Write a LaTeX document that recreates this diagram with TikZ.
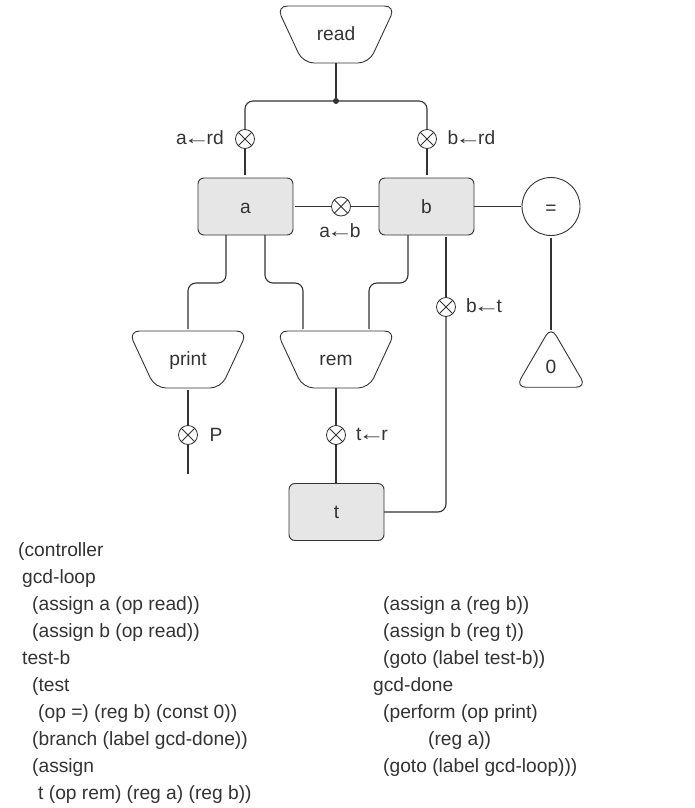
\documentclass[tikz,border=0pt]{standalone}
\usepackage{graphicx}
\usepackage{fontspec}
\setmainfont{Liberation Sans}
\usetikzlibrary{calc}
\definecolor{ink}{HTML}{333333}
\definecolor{regfill}{HTML}{E6E6E6}
\newcommand{\larr}{\kern-3.5pt\scalebox{1.4}[1]{←}\kern-3.5pt}
\newcommand{\trapbox}[4]{%
  \node[trapnode] (#1) at (#2,#3) {#4};
  \draw[shapeline] ([xshift=-59.5pt]#1.north) -- ([xshift=59.5pt]#1.north)
    -- ([xshift=33pt]#1.south) -- ([xshift=-33pt]#1.south) -- cycle;}
\newcommand{\codeline}[4]{\node[codetext] (#1) at (#2,#3) {#4};}
\tikzset{
  x=1pt,y=-1pt,
  every node/.style={text=ink,font=\fontsize{19.2}{22}\selectfont},
  wire/.style={draw=ink,line width=1.1pt,rounded corners=8pt},
  shapeline/.style={draw=ink,line width=0.9pt,rounded corners=11pt},
  regbox/.style={draw=ink,line width=0.9pt,fill=regfill,rounded corners=6pt,minimum width=95pt,minimum height=57pt,inner sep=0pt,outer sep=0pt,text height=13pt,text depth=0pt},
  trapnode/.style={minimum width=114pt,minimum height=57pt,inner sep=0pt,outer sep=0pt,text height=12pt,text depth=0pt},
  cmpnode/.style={circle,draw=ink,line width=0.9pt,minimum size=58pt,inner sep=0pt,outer sep=0pt,text height=16pt,text depth=0pt},
  gate/.style={circle,draw=ink,line width=0.8pt,fill=white,minimum size=19pt,inner sep=0pt,outer sep=0pt,
    path picture={\draw[ink,line width=0.8pt] (path picture bounding box.north west) -- (path picture bounding box.south east)
      (path picture bounding box.north east) -- (path picture bounding box.south west);}},
  lab/.style={inner sep=0pt},
  codetext/.style={anchor=base west,inner sep=0pt},
  dot/.style={circle,fill=ink,draw=none,minimum size=6pt,inner sep=0pt},
}
\begin{document}
\begin{tikzpicture}
\useasboundingbox (0,0) rectangle (694,808);
% operators
\trapbox{read}{336}{34.5}{read}
\trapbox{print}{188}{359.5}{print}
\trapbox{rem}{336}{359.5}{rem}
% registers
\node[regbox] (a) at (245.5,206.5) {a};
\node[regbox] (b) at (426.5,206.5) {b};
\node[regbox] (t) at (336.5,512) {t};
% comparison and constant
\node[cmpnode] (eq) at (551,206.5) {=};
\node[inner sep=0pt,minimum width=60pt,minimum height=57pt] (zero) at (551,358.5) {};
\draw[shapeline,rounded corners=10pt] ($(zero.north)+(0,-3)$) -- ($(zero.south east)+(5,0)$) -- ($(zero.south west)+(-5,0)$) -- cycle;
\node at (551,367) (zerotext) {0};
% junction and gates
\node[dot] (junc) at (336,101) {};
\node[gate] (garead) at (245,139) {};
\node[gate] (gbread) at (427,139) {};
\node[gate] (gab) at (341,206.5) {};
\node[gate] (gbt) at (446,307) {};
\node[gate] (gp) at (188,435) {};
\node[gate] (gtr) at (336,435) {};
\coordinate (pend) at (188,474);
% connectors
\draw[wire,line width=1.4pt] (read.south) -- (junc);
\draw[wire] (garead.north) -- (garead.north |- junc) -- (gbread.north |- junc) -- (gbread.north);
\draw[wire] (garead.south) -- ($(a.north -| garead.south)+(0,-3)$);
\draw[wire] (gbread.south) -- ($(b.north -| gbread.south)+(0,-3)$);
\draw[wire] ($(a.east)+(2,0)$) -- (gab.west);
\draw[wire] (gab.east) -- (b.west);
\draw[wire] (b.east) -- ($(eq.west)+(-1,0)$);
\draw[wire] ($(eq.south)+(0,2)$) -- (zero.north);
% a to print and rem, b to rem
\draw[wire] ($(a.south)+(-19.5,0)$) -- ($(a.south)+(-19.5,48)$) -- ($(print.north)+(0,-48)$) -- ($(print.north)+(0,-2)$);
\draw[wire] ($(a.south)+(19.5,0)$) -- ($(a.south)+(19.5,48)$) -- ($(rem.north)+(-33,-48)$) -- ($(rem.north)+(-33,-2)$);
\draw[wire] ($(b.south)+(-18.5,0)$) -- ($(b.south)+(-18.5,48)$) -- ($(rem.north)+(33,-48)$) -- ($(rem.north)+(33,-2)$);
% b <- t
\draw[wire] ($(b.south -| gbt.north)+(0,2)$) -- (gbt.north);
\draw[wire] (gbt.south) -- (gbt.south |- t.east) -- (t.east);
% outputs
\draw[wire] ($(print.south)+(0,2)$) -- (gp.north);
\draw[wire] (gp.south) -- (pend);
\draw[wire] (rem.south) -- (gtr.north);
\draw[wire] (gtr.south) -- (gtr.south |- t.north);
% labels
\node[lab] (l1) at (200,138) {a\larr rd};
\node[lab] (l2) at (471.5,138) {b\larr rd};
\node[lab] (l3) at (340,231) {a\larr b};
\node[lab] (l4) at (484,306) {b\larr t};
\node[lab] (l5) at (216,435) {P};
\node[lab] (l6) at (372,434) {t\larr r};
% listing, left column
\codeline{c1}{18}{556}{(controller}
\codeline{c2}{22}{583}{gcd-loop}
\codeline{c3}{32}{610}{(assign a (op read))}
\codeline{c4}{32}{637}{(assign b (op read))}
\codeline{c5}{22}{664}{test-b}
\codeline{c6}{32}{691}{(test}
\codeline{c7}{38}{718}{(op =) (reg b) (const 0))}
\codeline{c8}{32}{745}{(branch (label gcd-done))}
\codeline{c9}{32}{772}{(assign}
\codeline{c10}{38}{799}{t (op rem) (reg a) (reg b))}
% listing, right column
\codeline{d1}{383}{610}{(assign a (reg b))}
\codeline{d2}{383}{637}{(assign b (reg t))}
\codeline{d3}{383}{664}{(goto (label test-b))}
\codeline{d4}{373}{691}{gcd-done}
\codeline{d5}{383}{718}{(perform (op print)}
\codeline{d6}{428}{745}{(reg a))}
\codeline{d7}{383}{772}{(goto (label gcd-loop)))}
\end{tikzpicture}
\end{document}
